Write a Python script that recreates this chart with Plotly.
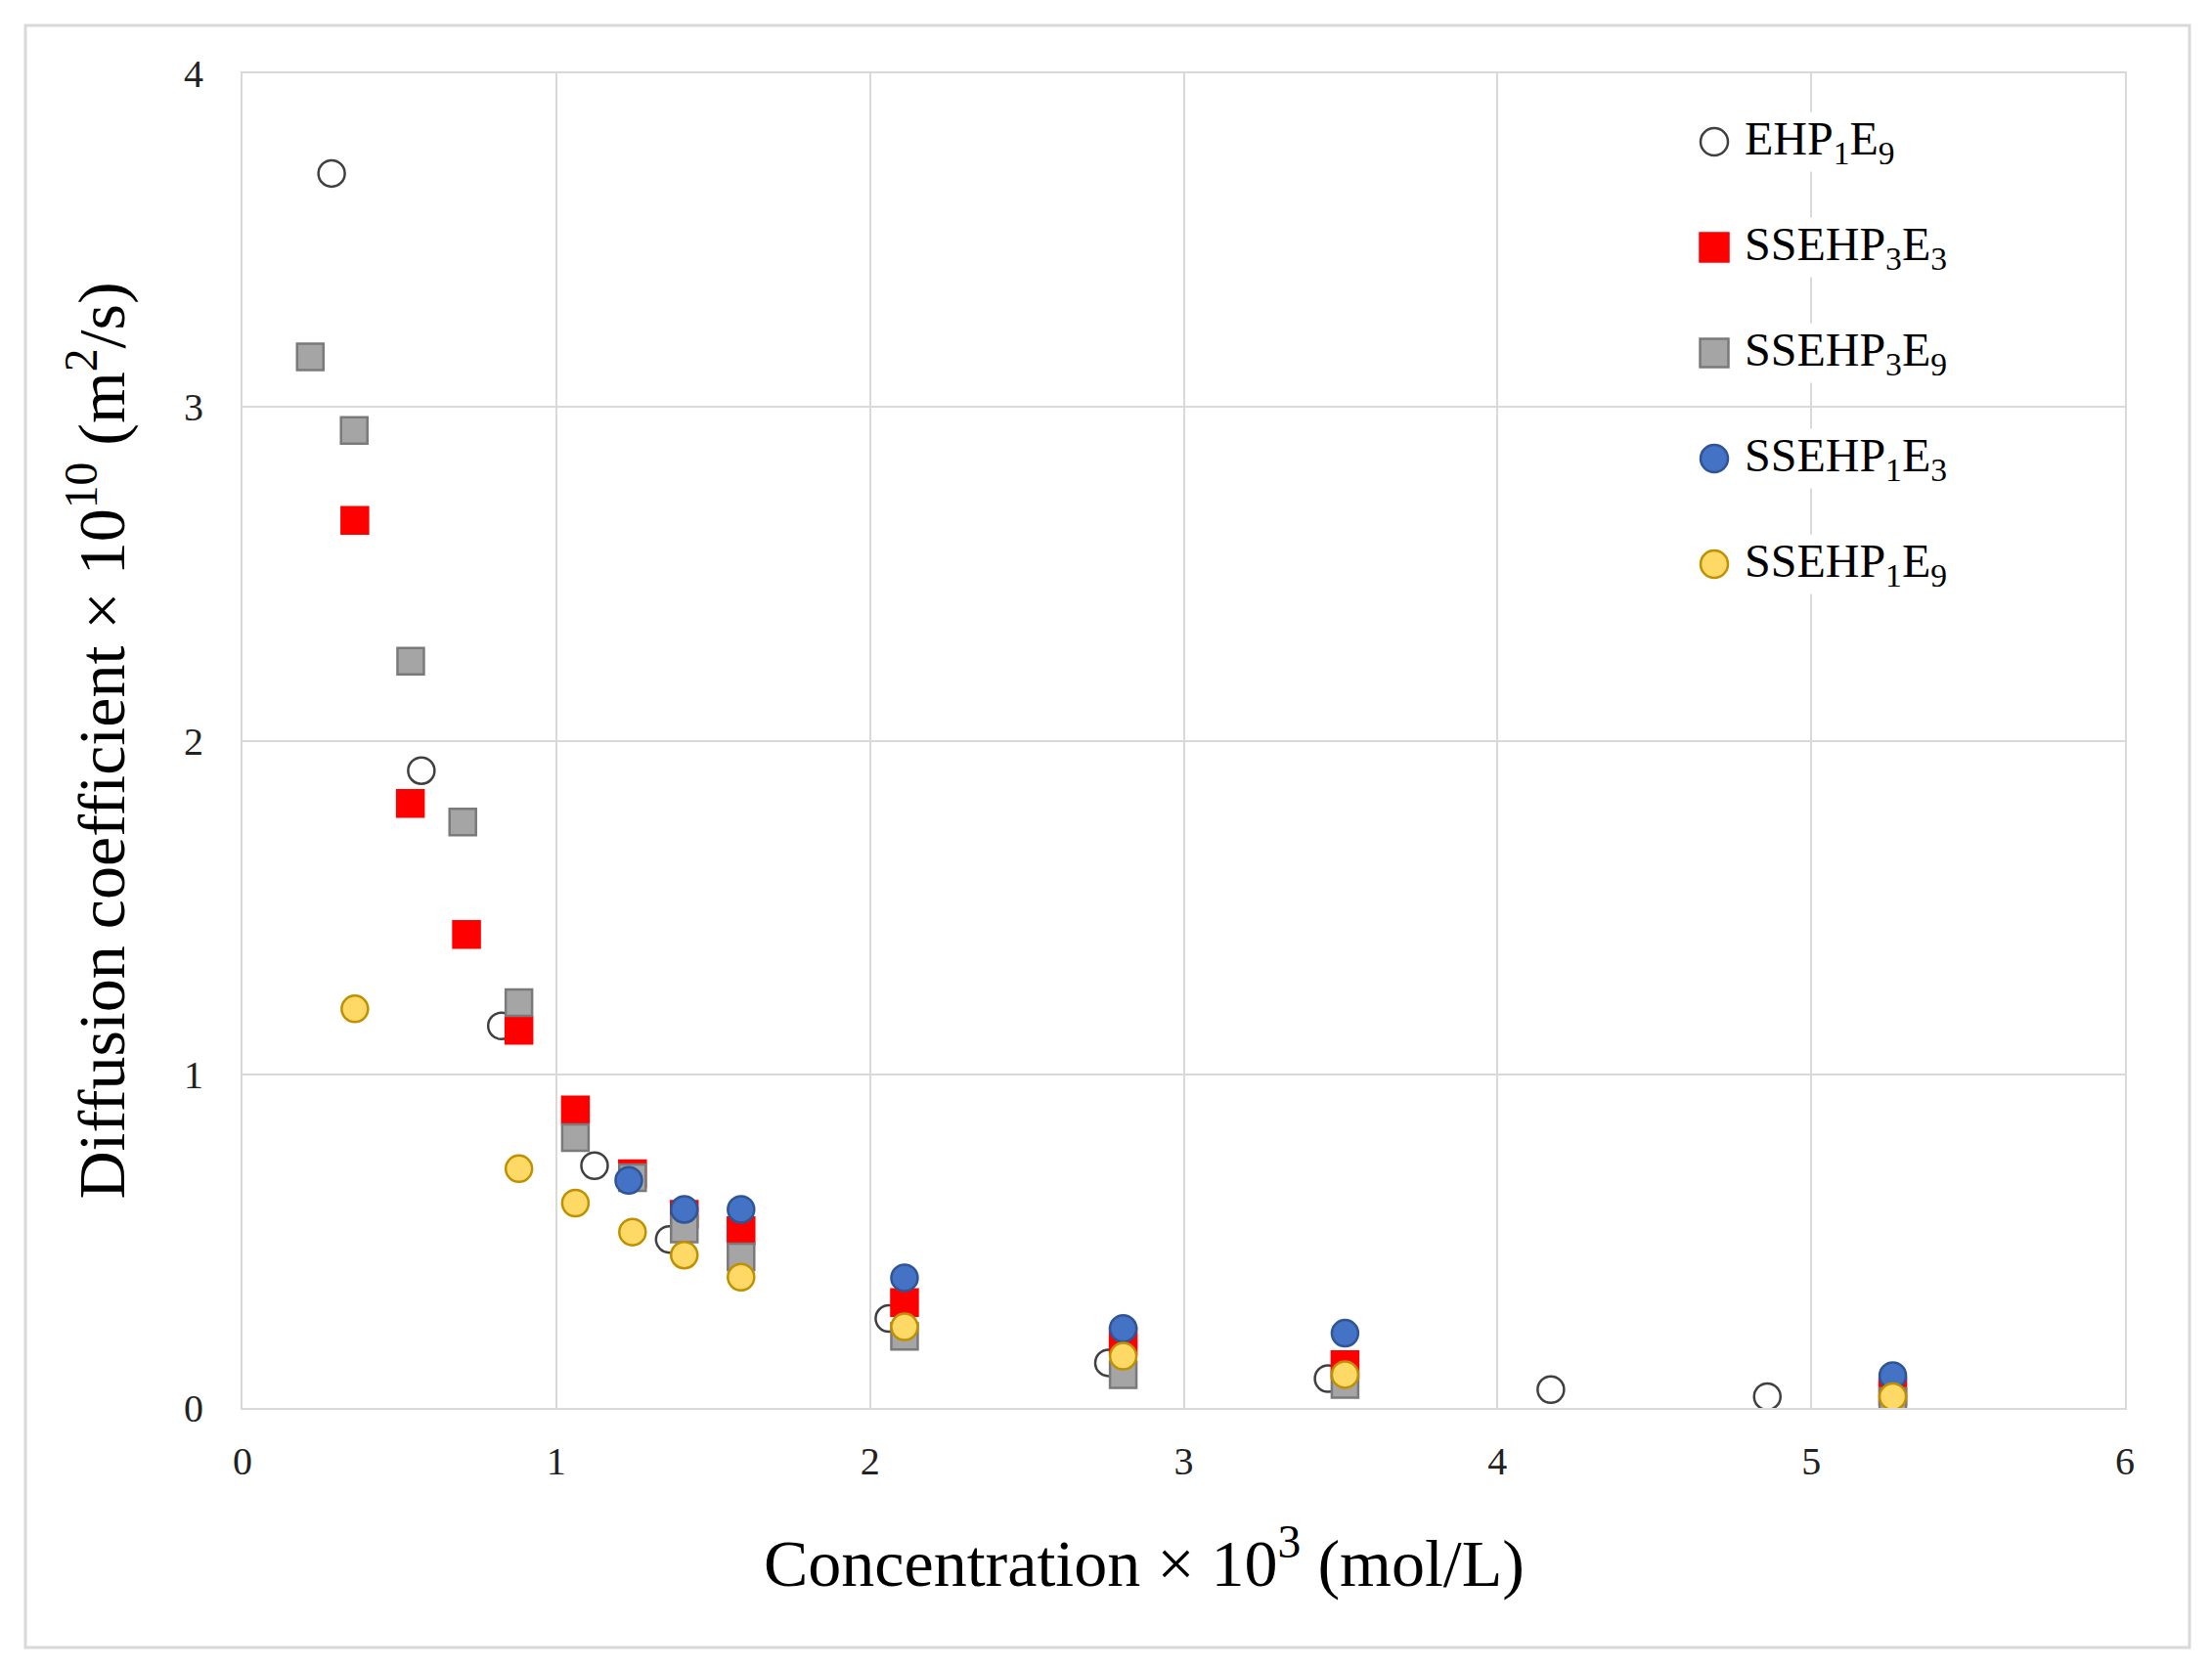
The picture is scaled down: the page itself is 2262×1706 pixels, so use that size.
import plotly.graph_objects as go

# ---- data ----
ehp1e9_x = [0.284, 0.57, 0.825, 1.122, 1.36, 2.06, 2.76, 3.46, 4.17, 4.86]
ehp1e9_y = [3.70, 1.91, 1.145, 0.726, 0.505, 0.268, 0.135, 0.088, 0.055, 0.034]

ssehp3e3_x = [0.358, 0.535, 0.714, 0.881, 1.061, 1.243, 1.408, 1.589, 2.11, 2.807, 3.514, 5.26]
ssehp3e3_y = [2.66, 1.812, 1.419, 1.132, 0.893, 0.702, 0.58, 0.531, 0.316, 0.20, 0.13, 0.05]

ssehp3e9_x = [0.216, 0.356, 0.536, 0.702, 0.881, 1.061, 1.243, 1.408, 1.589, 2.11, 2.807, 3.514, 5.26]
ssehp3e9_y = [3.15, 2.93, 2.238, 1.756, 1.215, 0.81, 0.69, 0.536, 0.453, 0.215, 0.10, 0.07, 0.02]

ssehp1e3_x = [1.231, 1.408, 1.589, 2.11, 2.807, 3.514, 5.26]
ssehp1e3_y = [0.682, 0.595, 0.595, 0.39, 0.238, 0.224, 0.097]

ssehp1e9_x = [0.358, 0.881, 1.061, 1.243, 1.408, 1.589, 2.11, 2.807, 3.514, 5.26]
ssehp1e9_y = [1.196, 0.717, 0.614, 0.527, 0.458, 0.392, 0.243, 0.155, 0.10, 0.034]

x_ticks = [0, 1, 2, 3, 4, 5, 6]
y_ticks = [0, 1, 2, 3, 4]

series = [
    ("EHP<sub>1</sub>E<sub>9</sub>", ehp1e9_x, ehp1e9_y, "circle", "#FFFFFF", "#404040"),
    ("SSEHP<sub>3</sub>E<sub>3</sub>", ssehp3e3_x, ssehp3e3_y, "square", "#FF0000", "#FF0000"),
    ("SSEHP<sub>3</sub>E<sub>9</sub>", ssehp3e9_x, ssehp3e9_y, "square", "#A5A5A5", "#7A7A7A"),
    ("SSEHP<sub>1</sub>E<sub>3</sub>", ssehp1e3_x, ssehp1e3_y, "circle", "#4472C4", "#2F5597"),
    ("SSEHP<sub>1</sub>E<sub>9</sub>", ssehp1e9_x, ssehp1e9_y, "circle", "#FFD966", "#BF9000"),
]

serif = "Liberation Serif"
grid = "#D9D9D9"

W, H = 2262, 1706
ML, MR, MT, MB = 240, 97, 67, 274
PW, PH = W - ML - MR, H - MT - MB

fig = go.Figure()
for i, (name, xs, ys, sym, fill, edge) in enumerate(series):
    fig.add_trace(go.Scatter(
        x=xs, y=ys, mode="markers", name=name, showlegend=False,
        marker=dict(symbol=sym, size=27, color=fill, line=dict(color=edge, width=2.5)),
    ))

# ---- custom legend (large symbols like the reference) ----
shapes = [dict(type="rect", xref="paper", yref="paper",
               x0=(18 - ML) / PW, x1=(2231 - ML) / PW,
               y0=(PH + MT - 1677) / PH, y1=(PH + MT - 18) / PH,
               line=dict(color="#D9D9D9", width=3), fillcolor="rgba(0,0,0,0)",
               layer="below")]
annotations = []
leg_x = (1745 - ML) / PW
txt_x = (1775 - ML) / PW
for k, (name, xs, ys, sym, fill, edge) in enumerate(series):
    py = (PH + MT - (137 + 108 * k)) / PH
    half = 14 if sym == "circle" else 14.5
    shapes.append(dict(
        type="circle" if sym == "circle" else "rect",
        xref="paper", yref="paper", xsizemode="pixel", ysizemode="pixel",
        xanchor=leg_x, yanchor=py, x0=-half, x1=half, y0=-half, y1=half,
        fillcolor=fill, line=dict(color=edge, width=2.5), layer="above",
    ))
    annotations.append(dict(
        xref="paper", yref="paper", x=txt_x, y=py, xanchor="left", yanchor="middle",
        yshift=0, text=name, showarrow=False, bgcolor="white", borderpad=0,
        font=dict(family=serif, size=48, color="#000000"),
    ))

# x-axis title placed like the reference (slightly left of centre)
annotations.append(dict(
    xref="paper", yref="paper", x=(1162 - ML) / PW, y=(PH + MT - 1586) / PH,
    xanchor="center", yanchor="middle", showarrow=False,
    text="Concentration × 10<sup>3</sup> (mol/L)",
    font=dict(family=serif, size=68, color="#000000"),
))

fig.update_layout(
    width=W, height=H,
    paper_bgcolor="white", plot_bgcolor="white",
    margin=dict(l=ML, r=MR, t=MT, b=MB),
    font=dict(family=serif, color="#000000"),
    showlegend=False,
    xaxis=dict(
        range=[0, 6], tickvals=x_ticks, ticktext=[str(v) for v in x_ticks],
        showgrid=True, gridcolor=grid, gridwidth=2,
        showline=True, linecolor=grid, linewidth=2, mirror=True,
        zeroline=False,
        ticks="outside", ticklen=18, tickcolor="rgba(0,0,0,0)",
        tickfont=dict(family=serif, size=40, color="#222222"),
    ),
    yaxis=dict(
        range=[0, 4], tickvals=y_ticks, ticktext=[str(v) for v in y_ticks],
        showgrid=True, gridcolor=grid, gridwidth=2,
        showline=True, linecolor=grid, linewidth=2, mirror=True,
        zeroline=False,
        ticks="outside", ticklen=30, tickcolor="rgba(0,0,0,0)",
        tickfont=dict(family=serif, size=40, color="#222222"),
        title=dict(text="Diffusion coefficient × 10<sup>10</sup> (m<sup>2</sup>/s)",
                   font=dict(family=serif, size=68, color="#000000"), standoff=38),
    ),
    shapes=shapes,
    annotations=annotations,
)

fig.write_html("out.html")
